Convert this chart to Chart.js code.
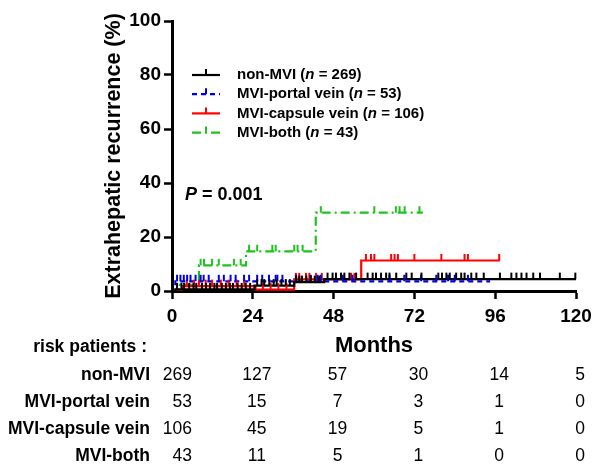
<!DOCTYPE html>
<html>
<head>
<meta charset="utf-8">
<script src="https://cdn.jsdelivr.net/npm/chart.js@4.4.0/dist/chart.umd.min.js"></script>
<style>
  html, body { margin: 0; padding: 0; background: #fff; }
  #wrap { position: relative; width: 600px; height: 467px; }
</style>
</head>
<body>
<div id="wrap"><canvas id="km"></canvas></div>
<script>
// groups
const groupNames = ['non-MVI', 'MVI-portal vein', 'MVI-capsule vein', 'MVI-both'];
const groupN = [269, 53, 106, 43];
const groupColors = ['#000000', '#0000e6', '#ff0000', '#1ec31e'];
const groupDash = [[], [5, 4], [], [9, 4, 2, 4]];

// step times (months) and cumulative extrahepatic recurrence (%) after each step
const nonMviT = [0, 1, 24.5, 36.3, 45.2, 120];
const nonMviY = [0, 0.6, 2.0, 3.3, 4.4, 4.4];
const portalT = [0, 1, 94.5];
const portalY = [0, 3.6, 3.6];
const capsuleT = [0, 3, 24.8, 36.3, 56.2, 97.4];
const capsuleY = [0, 1.8, 0.5, 4.3, 11.3, 11.3];
const bothT = [0, 2, 8, 22, 42.7, 74.5];
const bothY = [0, 2.3, 9.5, 14.7, 29.0, 29.0];

// censored times (months)
const nonMviCens = [1.5, 2.8, 3.6, 5.1, 6.4, 7.2, 8.9, 10.1, 11.3, 12.6, 13.4, 14.8, 16.0, 17.2, 18.1, 19.5,
  20.7, 21.9, 23.2, 25.3, 26.6, 27.4, 28.9, 30.2, 31.1, 32.5, 33.8, 35.0, 36.9, 37.8, 38.6, 39.9, 41.2,
  42.4, 43.7, 46.2, 47.7, 48.7, 50.2, 51.2, 52.7, 54.7, 58.1, 59.6, 60.6, 62.1, 63.6, 64.6, 66.6, 69.6,
  71.2, 74.1, 79.1, 80.2, 81.5, 82.5, 84.4, 85.9, 86.9, 88.9, 90.4, 92.6, 97.4, 100.8, 102.3, 103.8,
  105.3, 107.3, 109.3, 115.2, 119.8];
const portalCens = [1.5, 2.5, 3.5, 4.5, 5.5, 7.0, 8.5, 9.4, 10.9, 13.9, 15.4, 17.4, 18.9, 21.4, 22.9, 25.3,
  26.8, 28.8, 30.8, 31.3, 32.8, 36.8, 41.2, 43.2, 44.2, 50.7, 53.6, 64.6, 69.0, 74.0, 78.5, 82.0, 84.0, 87.9];
const capsuleCens = [4.4, 6.5, 8.0, 10.0, 11.9, 14.5, 16.8, 19.2, 21.5, 27.0, 29.3, 31.6, 34.0, 36.8, 37.8,
  39.8, 40.8, 42.8, 44.5, 53.2, 54.2, 57.6, 59.1, 60.1, 65.1, 66.1, 67.1, 72.0, 80.0, 86.9, 87.9, 97.2];
const bothCens = [8.5, 9.5, 11.9, 13.9, 18.4, 20.4, 22.9, 25.3, 29.8, 30.8, 36.3, 37.3, 38.8, 44.2, 60.1,
  66.5, 67.6, 69.1, 73.5];

// numbers at risk
const riskMonths = [0, 24, 48, 72, 96, 120];
const riskNonMvi = [269, 127, 57, 30, 14, 5];
const riskPortal = [53, 15, 7, 3, 1, 0];
const riskCapsule = [106, 45, 19, 5, 1, 0];
const riskBoth = [43, 11, 5, 1, 0, 0];

const FONT = '"Liberation Sans", Arial, sans-serif';
const stepT = [nonMviT, portalT, capsuleT, bothT];
const stepY = [nonMviY, portalY, capsuleY, bothY];
const censors = [nonMviCens, portalCens, capsuleCens, bothCens];
const riskRows = [riskNonMvi, riskPortal, riskCapsule, riskBoth];

const levelAt = (T, Y, t) => {
    let v = Y[0];
    for (let k = 0; k < T.length; k++) if (T[k] <= t) v = Y[k];
    return v;
};

// censor ticks, legend, p value and risk table
const extrasPlugin = {
    id: 'extras',
    afterDatasetsDraw(chart) {
        const { ctx, scales: { x, y } } = chart;
        ctx.save();
        ctx.lineWidth = 2;
        // draw last group first so non-MVI stays on top
        for (let i = censors.length - 1; i >= 0; i--) {
            ctx.strokeStyle = groupColors[i];
            censors[i].forEach(t => {
                const px = x.getPixelForValue(t);
                const py = y.getPixelForValue(levelAt(stepT[i], stepY[i], t));
                ctx.beginPath();
                ctx.moveTo(px, py);
                ctx.lineTo(px, py - 6.5);
                ctx.stroke();
            });
        }
        ctx.restore();
    },
    afterDraw(chart) {
        const { ctx, scales: { x } } = chart;
        ctx.save();
        ctx.fillStyle = '#000';
        ctx.textBaseline = 'middle';

        // legend
        groupNames.forEach((name, i) => {
            const ly = 75 + i * 19.2;
            ctx.strokeStyle = groupColors[i];
            ctx.lineWidth = 2.2;
            ctx.setLineDash(groupDash[i]);
            ctx.beginPath(); ctx.moveTo(192, ly); ctx.lineTo(220, ly); ctx.stroke();
            ctx.setLineDash([]);
            ctx.lineWidth = 2;
            ctx.beginPath(); ctx.moveTo(206, ly); ctx.lineTo(206, ly - 6); ctx.stroke();

            let tx = 237;
            ctx.textAlign = 'left';
            ctx.font = 'bold 15px ' + FONT;
            ctx.fillText(name + ' (', tx, ly);
            tx += ctx.measureText(name + ' (').width;
            ctx.font = 'italic bold 15px ' + FONT;
            ctx.fillText('n', tx, ly);
            tx += ctx.measureText('n').width;
            ctx.font = 'bold 15px ' + FONT;
            ctx.fillText(' = ' + groupN[i] + ')', tx, ly);
        });

        // p value
        ctx.textAlign = 'left';
        ctx.font = 'italic bold 18px ' + FONT;
        ctx.fillText('P', 185, 195);
        const pw = ctx.measureText('P').width;
        ctx.font = 'bold 18px ' + FONT;
        ctx.fillText(' = 0.001', 185 + pw, 195);

        // number at risk table
        ctx.textAlign = 'right';
        ctx.font = 'bold 17.5px ' + FONT;
        ctx.fillText('risk patients :', 147, 347);
        riskRows.forEach((row, i) => {
            const ry = 375 + i * 27;
            ctx.textAlign = 'right';
            ctx.font = 'bold 17.5px ' + FONT;
            ctx.fillText(groupNames[i], 150, ry);
            ctx.font = '17.5px ' + FONT;
            row.forEach((v, j) => {
                const px = x.getPixelForValue(riskMonths[j]);
                if (j === 0) {
                    ctx.textAlign = 'right';
                    ctx.fillText(String(v), px + 20, ry);
                } else {
                    ctx.textAlign = 'center';
                    ctx.fillText(String(v), px + 4, ry);
                }
            });
        });
        ctx.restore();
    }
};

const datasets = groupNames.map((name, i) => ({
    label: name,
    data: stepT[i].map((t, k) => ({ x: t, y: stepY[i][k] })),
    borderColor: groupColors[i],
    borderWidth: 2.2,
    borderDash: groupDash[i],
    stepped: true,
    pointRadius: 0,
    fill: false
}));

new Chart(document.getElementById('km'), {
    type: 'line',
    data: { datasets },
    options: {
        responsive: true,
        maintainAspectRatio: false,
        animation: false,
        layout: { padding: { left: 0, top: 21, right: 24, bottom: 106 } },
        plugins: { legend: { display: false }, tooltip: { enabled: false } },
        scales: {
            x: {
                type: 'linear', min: 0, max: 120,
                ticks: { stepSize: 24, color: '#000', padding: 6, font: { family: FONT, size: 19, weight: 'bold' } },
                grid: { drawOnChartArea: false, tickLength: 8, tickWidth: 2.5, color: '#000' },
                border: { color: '#000', width: 3 },
                title: { display: true, text: 'Months', color: '#000', padding: { top: 0, bottom: 2 },
                    font: { family: FONT, size: 22, weight: 'bold' } },
                afterFit: s => { s.height = 70; }
            },
            y: {
                min: 0, max: 100,
                ticks: { stepSize: 20, color: '#000', padding: 3, font: { family: FONT, size: 19, weight: 'bold' } },
                grid: { drawOnChartArea: false, tickLength: 8, tickWidth: 2.5, color: '#000' },
                border: { color: '#000', width: 3 },
                title: { display: true, text: 'Extrahepatic recurrence (%)', color: '#000', padding: { top: 101, bottom: 0 },
                    font: { family: FONT, size: 21.5, weight: 'bold' } },
                afterFit: s => { s.width = 172; }
            }
        }
    },
    plugins: [extrasPlugin]
});
</script>
</body>
</html>
